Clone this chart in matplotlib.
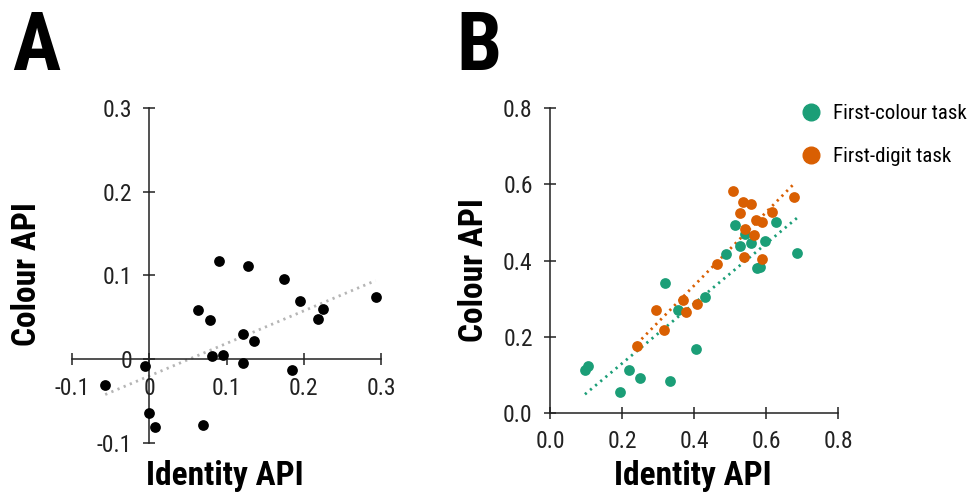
import numpy as np
import matplotlib
matplotlib.use('Agg')
import matplotlib.pyplot as plt
from matplotlib.lines import Line2D

plt.rcParams['font.family'] = ['Roboto Condensed', 'Archivo Narrow', 'DejaVu Sans']

# panel A: identity API vs colour API (single group)
a_identity = [-0.057, -0.005, 0.000, 0.008, 0.063, 0.079, 0.090, 0.081, 0.096, 0.069,
              0.128, 0.122, 0.136, 0.121, 0.174, 0.195, 0.219, 0.225, 0.185, 0.293]
a_colour = [-0.031, -0.008, -0.064, -0.081, 0.059, 0.047, 0.117, 0.004, 0.005, -0.079,
            0.111, 0.030, 0.022, -0.004, 0.096, 0.069, 0.048, 0.060, -0.013, 0.074]
a_ticks = [-0.1, 0, 0.1, 0.2, 0.3]
a_ticklabels = ['-0.1', '0', '0.1', '0.2', '0.3']

# panel B: two tasks
colour_task_x = [0.097, 0.106, 0.195, 0.220, 0.251, 0.318, 0.334, 0.355, 0.405, 0.429,
                 0.488, 0.513, 0.526, 0.542, 0.558, 0.574, 0.584, 0.597, 0.628, 0.685]
colour_task_y = [0.112, 0.123, 0.054, 0.112, 0.091, 0.342, 0.082, 0.270, 0.167, 0.305,
                 0.416, 0.493, 0.439, 0.469, 0.446, 0.381, 0.384, 0.452, 0.500, 0.421]
digit_task_x = [0.241, 0.294, 0.316, 0.369, 0.376, 0.408, 0.463, 0.507, 0.527, 0.536,
                0.558, 0.540, 0.566, 0.539, 0.572, 0.587, 0.589, 0.616, 0.677]
digit_task_y = [0.174, 0.269, 0.218, 0.296, 0.264, 0.286, 0.391, 0.583, 0.526, 0.555,
                0.548, 0.483, 0.467, 0.410, 0.507, 0.500, 0.403, 0.527, 0.566]
b_ticks = [0.0, 0.2, 0.4, 0.6, 0.8]
b_ticklabels = ['0.0', '0.2', '0.4', '0.6', '0.8']
task_names = ['First-colour task', 'First-digit task']

GREEN = '#1b9e77'
ORANGE = '#d95f02'
W, H = 973, 493

def fx(px):
    return px / W

def fy(py):
    return 1 - py / H

def style_axes(ax):
    for side in ['top', 'right']:
        ax.spines[side].set_visible(False)
    for side in ['left', 'bottom']:
        ax.spines[side].set_linewidth(1.1)
        ax.spines[side].set_color('#222222')
    ax.tick_params(direction='inout', length=9, width=1.1, color='#222222',
                   labelsize=17, pad=8, labelcolor='#222222')

def trend(ax, x, y, color):
    x = np.asarray(x)
    k, b = np.polyfit(x, y, 1)
    xs = np.array([x.min(), x.max()])
    ax.plot(xs, k * xs + b, color=color, lw=2, linestyle=(0, (0.8, 1.6)), zorder=1)

fig = plt.figure(figsize=(W / 100, H / 100), dpi=100)

# ---- panel A
ax_a = fig.add_axes([fx(72), fy(443), fx(381 - 72), (443 - 107.7) / H])
style_axes(ax_a)
ax_a.spines['left'].set_position(('data', 0))
ax_a.spines['bottom'].set_position(('data', 0))
ax_a.set_xlim(-0.1, 0.3)
ax_a.set_ylim(-0.1, 0.3)
ax_a.set_xticks(a_ticks)
ax_a.set_xticklabels(a_ticklabels)
ax_a.set_yticks(a_ticks)
ax_a.set_yticklabels(a_ticklabels)
trend(ax_a, a_identity, a_colour, '#b5b5b5')
ax_a.scatter(a_identity, a_colour, s=60, color='black', zorder=3, clip_on=False, linewidths=0)

# ---- panel B
ax_b = fig.add_axes([fx(550), fy(412.7), fx(838.3 - 550), (412.7 - 108.3) / H])
style_axes(ax_b)
ax_b.set_xlim(0, 0.8)
ax_b.set_ylim(0, 0.8)
ax_b.set_xticks(b_ticks)
ax_b.set_xticklabels(b_ticklabels)
ax_b.set_yticks(b_ticks)
ax_b.set_yticklabels(b_ticklabels)
trend(ax_b, colour_task_x, colour_task_y, GREEN)
trend(ax_b, digit_task_x, digit_task_y, ORANGE)
ax_b.scatter(colour_task_x, colour_task_y, s=60, color=GREEN, zorder=3, linewidths=0)
ax_b.scatter(digit_task_x, digit_task_y, s=60, color=ORANGE, zorder=3, linewidths=0)

handles = [Line2D([], [], marker='o', ls='', color=c, markersize=12) for c in [GREEN, ORANGE]]
fig.legend(handles, task_names, loc='upper left', bbox_to_anchor=(fx(801), fy(104)),
           frameon=False, fontsize=15, handlelength=1.0, handletextpad=0.55,
           labelspacing=1.15, borderpad=0, borderaxespad=0)

# labels
lab = dict(fontsize=24, fontweight='bold', color='black')
fig.text(fx(27), fy(274), 'Colour API', rotation=90, ha='center', va='center', **lab)
fig.text(fx(474), fy(270), 'Colour API', rotation=90, ha='center', va='center', **lab)
fig.text(fx(224.5), fy(460), 'Identity API', ha='center', va='top', **lab)
fig.text(fx(693), fy(460), 'Identity API', ha='center', va='top', **lab)
fig.text(fx(12), fy(70), 'A', fontsize=58, fontweight='bold', ha='left', va='baseline')
fig.text(fx(456), fy(70), 'B', fontsize=58, fontweight='bold', ha='left', va='baseline')

fig.savefig('out.png', dpi=100)
